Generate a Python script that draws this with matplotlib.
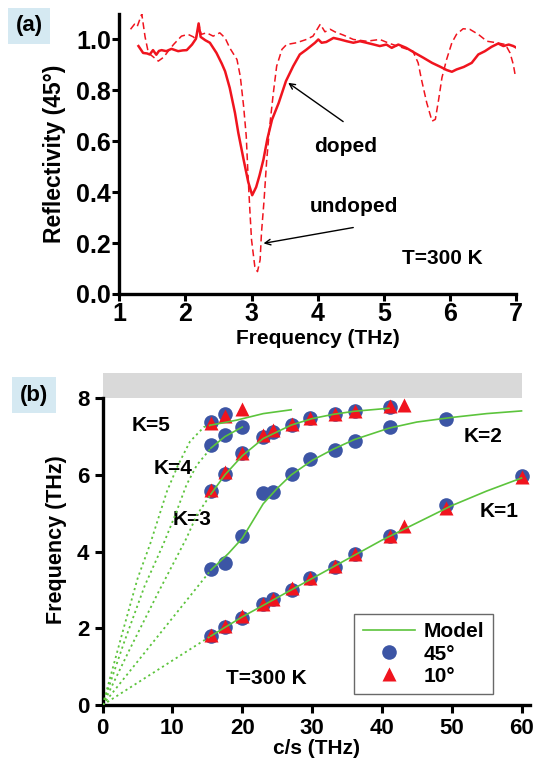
import matplotlib
matplotlib.use('Agg')
import matplotlib.pyplot as plt
from matplotlib.lines import Line2D

plt.rcParams['font.family'] = ['Liberation Sans', 'DejaVu Sans']
plt.rcParams['font.weight'] = 'bold'

# (a) reflectivity spectra
freq_doped = [1.29, 1.36, 1.42, 1.46, 1.51, 1.56, 1.60, 1.64, 1.71, 1.79, 1.89, 1.96, 2.02, 2.10,
              2.16, 2.20, 2.23, 2.30, 2.37, 2.47, 2.55, 2.60, 2.67, 2.75, 2.80, 2.88, 2.95, 3.01,
              3.07, 3.12, 3.18, 3.24, 3.31, 3.41, 3.52, 3.63, 3.73, 3.83, 3.96, 4.01, 4.06, 4.13,
              4.24, 4.34, 4.44, 4.54, 4.64, 4.74, 4.85, 4.94, 5.04, 5.12, 5.22, 5.34, 5.47, 5.60,
              5.73, 5.86, 5.95, 6.03, 6.10, 6.21, 6.33, 6.43, 6.53, 6.63, 6.73, 6.81, 6.89, 6.96, 7.01]
refl_doped = [0.974, 0.947, 0.945, 0.941, 0.958, 0.940, 0.955, 0.958, 0.954, 0.963, 0.954, 0.957,
              0.958, 0.980, 1.003, 1.063, 1.010, 0.997, 0.987, 0.947, 0.905, 0.875, 0.810, 0.711,
              0.633, 0.528, 0.440, 0.388, 0.420, 0.465, 0.528, 0.610, 0.685, 0.750, 0.836, 0.895,
              0.941, 0.960, 0.987, 1.000, 0.987, 0.990, 1.006, 1.000, 0.993, 0.987, 0.993, 0.987,
              0.980, 0.974, 0.980, 0.967, 0.980, 0.967, 0.947, 0.928, 0.908, 0.892, 0.880, 0.873,
              0.882, 0.892, 0.908, 0.941, 0.954, 0.971, 0.984, 0.974, 0.980, 0.974, 0.967]

freq_undoped = [1.17, 1.23, 1.27, 1.34, 1.39, 1.44, 1.52, 1.59, 1.67, 1.74, 1.82, 1.94, 2.04, 2.12,
                2.16, 2.20, 2.24, 2.32, 2.42, 2.52, 2.60, 2.67, 2.78, 2.83, 2.88, 2.92, 2.95, 2.98,
                3.00, 3.05, 3.09, 3.13, 3.15, 3.19, 3.23, 3.28, 3.33, 3.38, 3.46, 3.53, 3.68, 3.83,
                3.93, 4.04, 4.11, 4.19, 4.26, 4.39, 4.54, 4.74, 4.94, 5.09, 5.29, 5.44, 5.52, 5.57,
                5.65, 5.73, 5.78, 5.83, 5.88, 5.95, 6.03, 6.10, 6.20, 6.30, 6.43, 6.56, 6.71, 6.84,
                6.91, 6.96, 6.99]
refl_undoped = [1.04, 1.06, 1.05, 1.10, 1.01, 0.947, 0.93, 0.915, 0.93, 0.954, 0.98, 1.013, 1.02,
                1.01, 1.0, 1.06, 1.02, 1.026, 1.013, 1.026, 1.006, 0.967, 0.921, 0.855, 0.738, 0.62,
                0.45, 0.304, 0.213, 0.107, 0.088, 0.134, 0.239, 0.37, 0.528, 0.672, 0.79, 0.895,
                0.961, 0.98, 0.987, 1.0, 1.013, 1.06, 1.03, 1.04, 1.03, 1.017, 1.0, 0.993, 1.0,
                0.984, 0.967, 0.954, 0.908, 0.843, 0.751, 0.679, 0.686, 0.764, 0.85, 0.921, 0.987,
                1.02, 1.042, 1.04, 1.02, 0.993, 0.987, 0.98, 0.947, 0.901, 0.856]

# (b) dispersion, x = c/s (THz), y = frequency (THz)
cs_45 = {
    1: ([15.5, 17.5, 20.0, 23.0, 24.4, 27.1, 29.7, 33.3, 36.1, 41.1, 49.2, 60.0],
        [1.81, 2.03, 2.28, 2.63, 2.77, 3.00, 3.31, 3.60, 3.95, 4.42, 5.22, 5.96]),
    2: ([15.5, 17.5, 20.0, 23.0, 24.4, 27.1, 29.7, 33.3, 36.1, 41.1, 49.2],
        [3.54, 3.71, 4.42, 5.52, 5.55, 6.03, 6.42, 6.65, 6.89, 7.24, 7.46]),
    3: ([15.5, 17.5, 20.0, 23.0, 24.4, 27.1, 29.7, 33.3, 36.1, 41.1],
        [5.59, 6.02, 6.57, 7.00, 7.13, 7.31, 7.48, 7.58, 7.67, 7.78]),
    4: ([15.5, 17.5, 20.0], [6.77, 7.03, 7.26]),
    5: ([15.5, 17.5], [7.38, 7.58]),
}
cs_10 = {
    1: ([15.5, 17.5, 20.0, 23.0, 24.4, 27.1, 29.7, 33.3, 36.1, 41.1, 43.1, 49.2, 60.0],
        [1.83, 2.05, 2.33, 2.64, 2.76, 3.04, 3.30, 3.63, 3.93, 4.40, 4.68, 5.15, 5.95]),
    3: ([15.5, 17.5, 20.0, 23.0, 24.4, 27.1, 29.7, 33.3, 36.1, 41.1, 43.1],
        [5.60, 6.07, 6.57, 7.03, 7.17, 7.33, 7.48, 7.60, 7.68, 7.79, 7.82]),
    5: ([15.5, 17.5, 20.0], [7.35, 7.55, 7.71]),
}
model_solid = {
    1: ([15.5, 20, 25, 30, 35, 40, 45, 50, 55, 60],
        [1.80, 2.30, 2.80, 3.30, 3.80, 4.30, 4.75, 5.20, 5.58, 5.92]),
    2: ([15.5, 18, 20, 23, 25, 27, 30, 33, 36, 41, 45, 50, 55, 60],
        [3.52, 3.95, 4.35, 5.25, 5.65, 6.00, 6.38, 6.67, 6.92, 7.22, 7.38, 7.50, 7.60, 7.67]),
    3: ([15.5, 17.5, 20, 23, 27, 30, 33, 36, 41],
        [5.50, 6.00, 6.50, 6.95, 7.30, 7.47, 7.58, 7.66, 7.74]),
    4: ([15.5, 17.5, 20], [6.70, 7.00, 7.25]),
    5: ([15.5, 19.2, 23, 27], [7.30, 7.43, 7.60, 7.70]),
}
model_dotted = {
    1: ([0, 15.5], [0, 1.80]),
    2: ([0, 15.5], [0, 3.52]),
    3: ([0, 4, 8, 12, 13.5, 15.5], [0, 1.5, 2.95, 4.35, 4.96, 5.50]),
    4: ([0, 3, 6, 8.7, 10.4, 12, 13.5, 15.5], [0, 1.6, 3.1, 4.2, 4.96, 5.74, 6.26, 6.70]),
    5: ([0, 3, 5, 6.8, 9.2, 10.8, 12.5, 14.5, 15.5], [0, 2.0, 3.3, 4.2, 5.57, 6.26, 6.87, 7.25, 7.30]),
}
k_labels = {5: (7.0, 7.29), 4: (10.1, 6.16), 3: (12.75, 4.83), 2: (54.5, 7.0), 1: (56.8, 5.04)}

red = '#f0141e'
blue = '#3c55a5'
green = '#5cc43c'

fig = plt.figure(figsize=(5.34, 7.69), dpi=100)

# ---- panel (a)
ax1 = fig.add_axes([0.2234, 0.6177, 0.7429, 0.3641])
ax1.plot(freq_doped, refl_doped, color=red, lw=1.8)
ax1.plot(freq_undoped, refl_undoped, color=red, lw=1.1, dashes=(4.5, 2.5))
ax1.set_xlim(1, 7)
ax1.set_ylim(0, 1.1)
ax1.set_xticks(range(1, 8))
ax1.set_yticks([0, 0.2, 0.4, 0.6, 0.8, 1.0])
ax1.set_yticklabels(['0.0', '0.2', '0.4', '0.6', '0.8', '1.0'])
ax1.set_xlabel('Frequency (THz)', fontsize=15, fontweight='bold', labelpad=2)
ax1.set_ylabel('Reflectivity (45°)', fontsize=16.5, fontweight='bold', labelpad=7)
ax1.annotate('', xy=(3.52, 0.836), xytext=(4.42, 0.671),
             arrowprops=dict(arrowstyle='->', color='black', lw=1))
ax1.annotate('', xy=(3.14, 0.197), xytext=(4.58, 0.263),
             arrowprops=dict(arrowstyle='->', color='black', lw=1))
ax1.text(4.42, 0.579, 'doped', fontsize=15, fontweight='bold', ha='center', va='center')
ax1.text(4.55, 0.342, 'undoped', fontsize=15, fontweight='bold', ha='center', va='center')
ax1.text(5.89, 0.138, 'T=300 K', fontsize=15, fontweight='bold', ha='center', va='center')

# ---- panel (b)
ax2 = fig.add_axes([0.1923, 0.0832, 0.8, 0.4313])
ax2.axhspan(8, 8.65, xmin=0, xmax=60 / 61.2, color='#d9d9d9', lw=0, zorder=0)
for k, (x, y) in cs_45.items():
    ax2.plot(x, y, 'o', color=blue, ms=10.5, mec='none', zorder=2)
for k, (x, y) in cs_10.items():
    ax2.plot(x, y, '^', color=red, ms=10, mec='none', zorder=3)
for k, (x, y) in model_solid.items():
    ax2.plot(x, y, color=green, lw=1.2, zorder=4)
for k, (x, y) in model_dotted.items():
    ax2.plot(x, y, color=green, lw=1.3, ls=(0, (1.2, 1.8)), zorder=4)
for k, (x, y) in k_labels.items():
    ax2.text(x, y, 'K=%d' % k, fontsize=15, fontweight='bold', ha='center', va='center')
ax2.text(23.5, 0.70, 'T=300 K', fontsize=15, fontweight='bold', ha='center', va='center')
ax2.set_xlim(0, 61.2)
ax2.set_ylim(0, 8.65)
ax2.set_xticks(range(0, 61, 10))
ax2.set_yticks([0, 2, 4, 6, 8])
ax2.spines['left'].set_bounds(0, 8)
ax2.set_xlabel('c/s (THz)', fontsize=15, fontweight='bold', labelpad=0)
ax2.set_ylabel('Frequency (THz)', fontsize=15.5, fontweight='bold', labelpad=7)

handles = [Line2D([], [], color=green, lw=1.2),
           Line2D([], [], ls='none', marker='o', color=blue, ms=10.5, mec='none'),
           Line2D([], [], ls='none', marker='^', color=red, ms=10, mec='none')]
leg = ax2.legend(handles, ['Model', '45°', '10°'], loc='lower left',
                 bbox_to_anchor=(0.589, 0.033), frameon=True, fancybox=False,
                 handlelength=2.5, labelspacing=0.15, borderpad=0.4, handletextpad=0.45,
                 borderaxespad=0, prop={'weight': 'bold', 'size': 15})
leg.get_frame().set_edgecolor('#444444')
leg.get_frame().set_linewidth(1.0)

for ax in (ax1, ax2):
    for s in ('top', 'right'):
        ax.spines[s].set_visible(False)
    for s in ('left', 'bottom'):
        ax.spines[s].set_linewidth(2.4)
ax1.tick_params(width=2.2, length=5, labelsize=18, pad=1)
ax2.tick_params(width=2.2, length=6, labelsize=16, pad=3.5)
for ax in (ax1, ax2):
    for lab in ax.get_xticklabels() + ax.get_yticklabels():
        lab.set_fontweight('bold')

# panel letters
fig.text(29 / 534, 1 - 26 / 769, '(a)', fontsize=16, fontweight='bold', ha='center', va='center',
         bbox=dict(boxstyle='square,pad=0.35', fc='#d5e9f2', ec='none'))
fig.text(34 / 534, 1 - 395 / 769, '(b)', fontsize=16, fontweight='bold', ha='center', va='center',
         bbox=dict(boxstyle='square,pad=0.35', fc='#d5e9f2', ec='none'))

fig.savefig('out.png', dpi=100)
